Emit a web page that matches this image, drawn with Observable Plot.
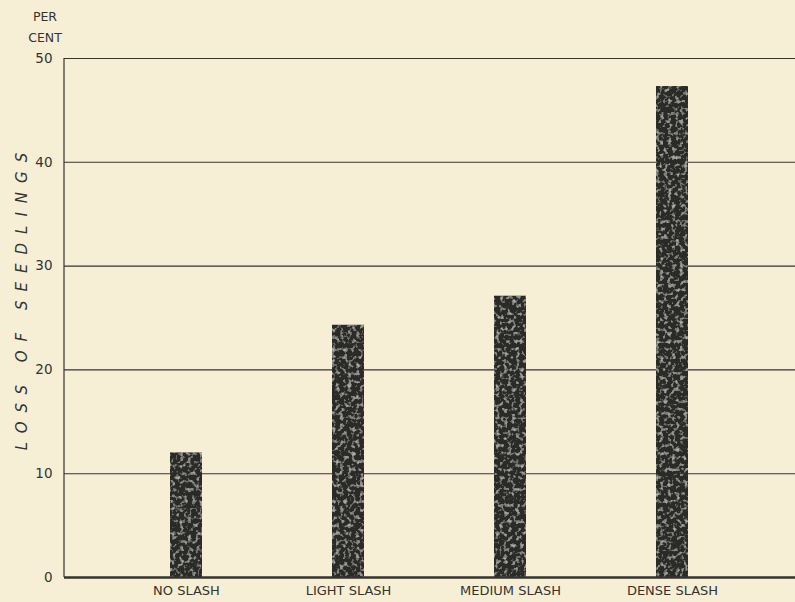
<!DOCTYPE html>
<html>
<head>
<meta charset="utf-8">
<script src="https://cdn.jsdelivr.net/npm/d3@7"></script>
<script src="https://cdn.jsdelivr.net/npm/@observablehq/plot@0.6"></script>
<style>
  html, body { margin: 0; padding: 0; background: #f6efd6; }
  #chart svg { display: block; }
</style>
</head>
<body>
<div id="chart"></div>
<script>
const categories = ["NO SLASH", "LIGHT SLASH", "MEDIUM SLASH", "DENSE SLASH"];
const lossPercent = [12.0, 24.3, 27.1, 47.3];
const yTicks = [0, 10, 20, 30, 40, 50];
const yLabel = "LOSS OF SEEDLINGS";
const unitLabel = ["PER", "CENT"];

const data = categories.map((c, i) => ({category: c, value: lossPercent[i]}));
const ink = "#34332f";

const chart = Plot.plot({
  width: 795,
  height: 602,
  marginLeft: 64,
  marginRight: 0,
  marginTop: 58,
  marginBottom: 25,
  style: {background: "#f6efd6", fontFamily: "DejaVu Sans, sans-serif", color: ink},
  x: {domain: categories, range: [169, 689], paddingInner: 0.8, paddingOuter: 0, axis: null},
  y: {domain: [0, 50], ticks: yTicks, axis: null},
  marks: [
    Plot.ruleY(yTicks.filter(d => d > 0), {stroke: ink, strokeWidth: 1.1}),
    Plot.barY(data, {x: "category", y: "value", fill: "#2a2926", className: "bars"}),
    Plot.ruleY([0], {stroke: ink, strokeWidth: 2.4}),
    Plot.text(yTicks, {y: d => d, text: d => String(d), frameAnchor: "left", dx: -12, textAnchor: "end", fontSize: 13.5, fill: ink}),
    Plot.text(categories, {x: d => d, text: d => d, frameAnchor: "bottom", dy: 17, fontSize: 13, fill: ink})
  ]
});

const svg = d3.select(chart);
// speckled print texture for the bars
const defs = svg.insert("defs", ":first-child");
const f = defs.append("filter").attr("id", "speckle").attr("x", 0).attr("y", 0).attr("width", 1).attr("height", 1);
f.append("feTurbulence").attr("type", "fractalNoise").attr("baseFrequency", 0.25).attr("numOctaves", 3).attr("seed", 7).attr("result", "noise");
f.append("feColorMatrix").attr("in", "noise").attr("type", "matrix")
  .attr("values", "0 0 0 0 0.42  0 0 0 0 0.42  0 0 0 0 0.40  0 0 0 -3.2 1.55").attr("result", "spots");
f.append("feComposite").attr("in", "spots").attr("in2", "SourceGraphic").attr("operator", "in").attr("result", "clipped");
f.append("feMerge").call(m => { m.append("feMergeNode").attr("in", "SourceGraphic"); m.append("feMergeNode").attr("in", "clipped"); });
svg.selectAll(".bars rect").attr("filter", "url(#speckle)");

// Axis line at the frame's left edge
svg.append("line")
  .attr("x1", 64).attr("x2", 64).attr("y1", 58).attr("y2", 577)
  .attr("stroke", ink).attr("stroke-width", 1.2);

// Rotated y-axis title
svg.append("text")
  .attr("transform", "translate(27,297) rotate(-90)")
  .attr("text-anchor", "middle")
  .attr("font-size", 15)
  .attr("font-style", "italic")
  .attr("letter-spacing", "9px")
  .attr("fill", ink)
  .text(yLabel);

// Unit label above the axis
svg.append("text")
  .attr("text-anchor", "middle")
  .attr("font-size", 12.5)
  .attr("fill", ink)
  .selectAll("tspan")
  .data(unitLabel)
  .join("tspan")
  .attr("x", 45)
  .attr("y", (d, i) => 21 + i * 21)
  .text(d => d);

document.getElementById("chart").appendChild(chart);
</script>
</body>
</html>
